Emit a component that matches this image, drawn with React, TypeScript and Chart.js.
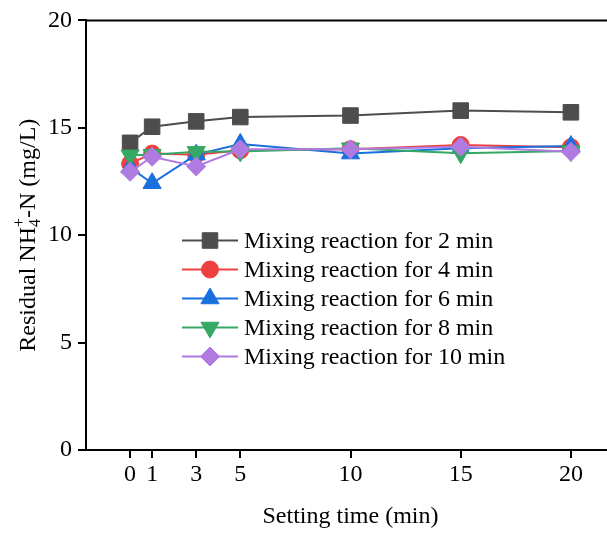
import React, { useEffect, useRef } from 'react';
import { Chart, registerables } from 'chart.js';
import { drawPoint } from 'chart.js/helpers';

Chart.register(...registerables);

const settingTime = [0, 1, 3, 5, 10, 15, 20];
const xTickValues = [0, 1, 3, 5, 10, 15, 20];
const seriesLabels = [
  'Mixing reaction for 2 min',
  'Mixing reaction for 4 min',
  'Mixing reaction for 6 min',
  'Mixing reaction for 8 min',
  'Mixing reaction for 10 min',
];
const mix2 = [14.3, 15.05, 15.3, 15.5, 15.57, 15.8, 15.72];
const mix4 = [13.33, 13.8, 13.75, 13.95, 14.0, 14.2, 14.1];
const mix6 = [13.15, 12.42, 13.75, 14.25, 13.8, 14.05, 14.15];
const mix8 = [13.72, 13.75, 13.88, 13.9, 14.05, 13.82, 13.92];
const mix10 = [12.95, 13.65, 13.2, 14.0, 14.0, 14.12, 13.88];

const FONT = '"Liberation Serif", "Times New Roman", serif';

const seriesValues = [mix2, mix4, mix6, mix8, mix10];
const seriesColors = ['#4d4d4d', '#ef4040', '#1a6fdf', '#35a866', '#b07be0'];
const seriesStyles = ['rect', 'circle', 'triangle', 'triangle', 'rectRot'];
const seriesRotations = [0, 0, 0, 180, 0];
const seriesRadii = [11, 8.5, 10.5, 10.5, 9.5];

const framePlugin = {
  id: 'framePlugin',
  beforeDatasetsDraw(chart: any) {
    const { ctx, chartArea } = chart;
    ctx.save();
    ctx.strokeStyle = '#000';
    ctx.lineWidth = 2;
    ctx.beginPath();
    ctx.moveTo(chartArea.left, chartArea.top);
    ctx.lineTo(chartArea.right, chartArea.top);
    ctx.stroke();
    ctx.restore();
  },
  afterDraw(chart: any) {
    const { ctx, chartArea } = chart;
    // y-axis title with subscript / superscript
    ctx.save();
    const cy = (chartArea.top + chartArea.bottom) / 2;
    ctx.translate(35, cy);
    ctx.rotate(-Math.PI / 2);
    ctx.fillStyle = '#000';
    ctx.textBaseline = 'alphabetic';
    ctx.textAlign = 'left';
    const big = `24px ${FONT}`;
    const small = `16px ${FONT}`;
    const p1 = 'Residual NH';
    const sub = '4';
    const sup = '+';
    const p2 = '-N (mg/L)';
    ctx.font = big;
    const w1 = ctx.measureText(p1).width;
    const w2 = ctx.measureText(p2).width;
    ctx.font = small;
    const ws = Math.max(ctx.measureText(sub).width, ctx.measureText(sup).width);
    const total = w1 + ws + w2;
    let x = -total / 2;
    ctx.font = big;
    ctx.fillText(p1, x, 0);
    x += w1;
    ctx.font = small;
    ctx.fillText(sub, x, 5);
    ctx.fillText(sup, x, -11);
    x += ws;
    ctx.font = big;
    ctx.fillText(p2, x, 0);
    ctx.restore();

    // legend
    const x0 = 182;
    const lineLen = 56;
    const rowY0 = 240.5;
    const rowGap = 29;
    chart.data.datasets.forEach((ds: any, i: number) => {
      const y = rowY0 + i * rowGap;
      ctx.save();
      ctx.strokeStyle = ds.borderColor;
      ctx.lineWidth = 2;
      ctx.beginPath();
      ctx.moveTo(x0, y);
      ctx.lineTo(x0 + lineLen, y);
      ctx.stroke();
      ctx.fillStyle = ds.pointBackgroundColor;
      ctx.strokeStyle = ds.pointBorderColor;
      ctx.lineWidth = 1;
      drawPoint(
        ctx,
        { pointStyle: ds.pointStyle, rotation: ds.pointRotation || 0, radius: ds.pointRadius, borderWidth: 1 } as any,
        x0 + lineLen / 2,
        y
      );
      ctx.fillStyle = '#000';
      ctx.font = `24px ${FONT}`;
      ctx.textBaseline = 'middle';
      ctx.textAlign = 'left';
      ctx.fillText(ds.label, 244, y + 1);
      ctx.restore();
    });
  },
};

export default function App() {
  const canvasRef = useRef<HTMLCanvasElement | null>(null);

  useEffect(() => {
    const canvas = canvasRef.current;
    if (!canvas) return;
    const datasets = seriesLabels.map((label, i) => ({
      label,
      data: settingTime.map((t, j) => ({ x: t, y: seriesValues[i][j] })),
      borderColor: seriesColors[i],
      backgroundColor: seriesColors[i],
      pointBackgroundColor: seriesColors[i],
      pointBorderColor: seriesColors[i],
      pointBorderWidth: 1,
      pointStyle: seriesStyles[i],
      pointRotation: seriesRotations[i],
      pointRadius: seriesRadii[i],
      borderWidth: 2,
      tension: 0,
      fill: false,
      order: seriesLabels.length - i,
    }));
    const tickFont = { family: FONT, size: 24 };
    const chart = new Chart(canvas, {
      type: 'line',
      data: { datasets } as any,
      options: {
        responsive: false,
        animation: false,
        layout: { padding: { top: 20, right: 4, left: 0, bottom: 0 } },
        plugins: { legend: { display: false }, tooltip: { enabled: false } },
        scales: {
          x: {
            type: 'linear',
            min: -2,
            max: 22,
            afterBuildTicks: (s: any) => {
              s.ticks = xTickValues.map((v) => ({ value: v }));
            },
            afterFit: (s: any) => {
              s.height = 84;
            },
            ticks: { font: tickFont, color: '#000', padding: 2, autoSkip: false, maxRotation: 0 },
            grid: { drawOnChartArea: false, tickLength: 8, color: '#000', lineWidth: 2 },
            border: { color: '#000', width: 2 },
            title: {
              display: true,
              text: 'Setting time (min)',
              font: tickFont,
              color: '#000',
              padding: { top: 0, bottom: 3 },
            },
          },
          y: {
            type: 'linear',
            min: 0,
            max: 20,
            afterFit: (s: any) => {
              s.width = 86;
            },
            ticks: { font: tickFont, color: '#000', padding: 6, stepSize: 5 },
            grid: { drawOnChartArea: false, tickLength: 8, color: '#000', lineWidth: 2 },
            border: { color: '#000', width: 2 },
          },
        },
      } as any,
      plugins: [framePlugin],
    });
    return () => chart.destroy();
  }, []);

  return (
    <div style={{ position: 'absolute', left: 0, top: 0, width: 607, height: 534, overflow: 'hidden', background: '#fff' }}>
      <canvas ref={canvasRef} width={627} height={534} style={{ width: 627, height: 534, display: 'block' }} />
    </div>
  );
}
